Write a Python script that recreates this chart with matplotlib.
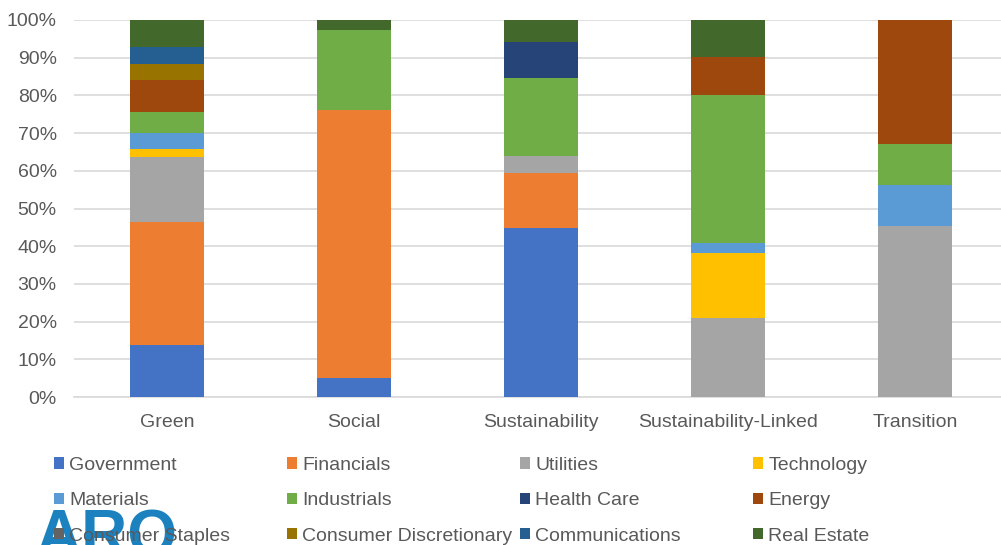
import numpy as np
import matplotlib
matplotlib.use("Agg")
import matplotlib.pyplot as plt
from matplotlib.patches import Patch
from matplotlib.ticker import PercentFormatter

plt.rcParams['font.family'] = ['Liberation Sans', 'DejaVu Sans']

categories = ['Green', 'Social', 'Sustainability', 'Sustainability-Linked', 'Transition']

sectors = ['Government', 'Financials', 'Utilities', 'Technology',
           'Materials', 'Industrials', 'Health Care', 'Energy',
           'Consumer Staples', 'Consumer Discretionary', 'Communications', 'Real Estate']

colors = ['#4472C4', '#ED7D31', '#A5A5A5', '#FFC000',
          '#5B9BD5', '#70AD47', '#264478', '#9E480E',
          '#636363', '#997300', '#255E91', '#43682B']

# share (%) per category, in category order
government    = [13.8, 5.0, 44.7, 0.0, 0.0]
financials    = [32.6, 71.2, 14.6, 0.0, 0.0]
utilities     = [17.4, 0.0, 4.6, 20.9, 45.3]
technology    = [2.1, 0.0, 0.0, 17.3, 0.0]
materials     = [4.3, 0.0, 0.0, 2.7, 10.9]
industrials   = [5.6, 21.1, 20.8, 39.1, 10.9]
health_care   = [0.0, 0.0, 9.5, 0.0, 0.0]
energy        = [8.4, 0.0, 0.0, 10.3, 32.9]
cons_staples  = [0.0, 0.0, 0.0, 0.0, 0.0]
cons_discr    = [4.1, 0.0, 0.0, 0.0, 0.0]
communication = [4.7, 0.0, 0.0, 0.0, 0.0]
real_estate   = [7.1, 2.7, 5.8, 9.7, 0.0]

series = [government, financials, utilities, technology, materials, industrials,
          health_care, energy, cons_staples, cons_discr, communication, real_estate]

fig = plt.figure(figsize=(10.01, 5.45), dpi=100)
ax = fig.add_axes([73.5 / 1001, 1 - 397 / 545, 935 / 1001, 377 / 545])

x = np.arange(len(categories))
data = np.array(series, dtype=float)
data = data / data.sum(axis=0) * 100
bottom = np.zeros(len(categories))
for vals, c in zip(data, colors):
    ax.bar(x, vals, width=0.4, bottom=bottom, color=c, linewidth=0, zorder=3)
    bottom += vals

ax.set_xlim(-0.5, 4.5)
ax.set_ylim(0, 100)
ax.set_yticks(np.arange(0, 101, 10))
ax.yaxis.set_major_formatter(PercentFormatter(decimals=0))
ax.set_xticks(x)
ax.set_xticklabels(categories)
ax.grid(axis='y', color='#D9D9D9', linewidth=1.2, zorder=0)
for s in ['top', 'right', 'left']:
    ax.spines[s].set_visible(False)
ax.spines['bottom'].set_color('#D9D9D9')
ax.spines['bottom'].set_linewidth(1.2)
ax.tick_params(length=0, labelsize=14, colors='#595959')
ax.tick_params(axis='x', pad=12.5)
ax.tick_params(axis='y', pad=12)

# logo behind the legend
fig.text(35 / 1001, 1 - 509 / 545, 'ARO', fontsize=46, fontweight='bold',
         color='#1B82BF', va='top', ha='left', zorder=0)

# legend: 4 equal-width columns, filled row by row
col_x = [54, 287, 520, 753]
for j in range(4):
    handles = [Patch(facecolor=colors[i * 4 + j], edgecolor='none') for i in range(3)]
    labels = [sectors[i * 4 + j] for i in range(3)]
    leg = fig.legend(handles, labels, loc='upper left',
                     bbox_to_anchor=(col_x[j] / 1001, 1 - 457 / 545),
                     frameon=False, fontsize=14, handlelength=0.52, handleheight=0.52,
                     handletextpad=0.26, labelspacing=0.94, borderpad=0, borderaxespad=0)
    for t in leg.get_texts():
        t.set_color('#595959')
    leg.set_zorder(5)

fig.savefig('out.png', dpi=100)
